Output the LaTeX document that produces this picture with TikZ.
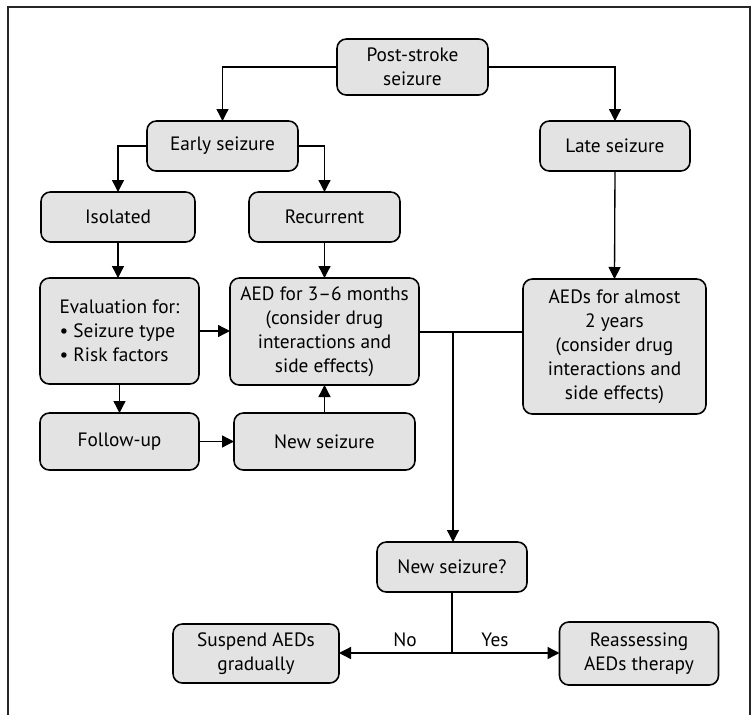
\documentclass[tikz,border=0pt]{standalone}
\usepackage{fontspec}
\setmainfont{PT Sans}
\usetikzlibrary{arrows.meta}
\begin{document}
\begin{tikzpicture}[x=0.75pt,y=-0.75pt,
  box/.style={draw=black,line width=1.2pt,fill=gray!22,rounded corners=7pt,
    inner sep=0pt,outer sep=0pt,align=center,font=\fontsize{14.5}{18}\selectfont},
  arr/.style={line width=1pt,-{Triangle[length=9pt,width=9pt]}},
  ln/.style={line width=1pt},
  lbl/.style={font=\fontsize{14.5}{18}\selectfont,inner sep=0pt}]
\useasboundingbox (0,0) rectangle (751,715);
% frame
\draw[line width=1.4pt,gray!30!black] (8,715) -- (8,7) -- (750,7) -- (750,715);
% nodes
\node[box,minimum width=113.25pt,minimum height=42pt] (post) at (412.5,67) {Post-stroke\\seizure};
\node[box,minimum width=113.25pt,minimum height=37.5pt] (early) at (222.5,146) {Early seizure};
\node[box,minimum width=112.5pt,minimum height=37.5pt] (late) at (615,146) {Late seizure};
\node[box,minimum width=115.5pt,minimum height=37.5pt] (iso) at (118,217) {Isolated};
\node[box,minimum width=113.25pt,minimum height=37.5pt] (rec) at (324.5,217) {Recurrent};
\node[box,minimum width=119.25pt,minimum height=79.5pt,align=left] (eval) at (119.5,331) {Evaluation for:\\• Seizure type\\• Risk factors};
\node[box,minimum width=141.75pt,minimum height=80.25pt] (aed) at (324.5,331.5) {AED for 3–6 months\\(consider drug\\interactions and\\side effects)};
\node[box,minimum width=137.25pt,minimum height=101.25pt] (aed2) at (614.5,346.5) {AEDs for almost\\2 years\\(consider drug\\interactions and\\side effects)};
\node[box,minimum width=119.25pt,minimum height=42.75pt] (follow) at (119.5,441.5) {Follow-up};
\node[box,minimum width=135.75pt,minimum height=42.75pt] (newsz) at (324.5,441.5) {New seizure};
\node[box,minimum width=112.5pt,minimum height=37.5pt] (q) at (452,567) {New seizure?};
\node[box,minimum width=124.5pt,minimum height=44.25pt] (susp) at (256,653.5) {Suspend AEDs\\gradually};
\node[box,minimum width=119.25pt,minimum height=47.25pt] (reas) at (639,653.5) {Reassessing\\AEDs therapy};
% connectors
\draw[arr] (post.west) -| (early.north);
\draw[arr] (post.east) -| (late.north);
\draw[arr] (early.west) -| (iso.north);
\draw[arr] (early.east) -| (rec.north);
\draw[arr] (iso.south) -- (iso.south |- eval.north);
\draw[arr] (rec.south) -- (aed.north);
\draw[arr] (late.south) -- (aed2.north);
\draw[arr] (eval.east) -- (eval.east -| aed.west);
\draw[arr] (eval.south) -- (follow.north);
\draw[arr] (follow.east) -- (newsz.west);
\draw[arr] (newsz.north) -- (aed.south);
\coordinate (j) at (453,332);
\draw[ln] (aed.east |- j) -- (j -| aed2.west);
\draw[arr] (j) -- (j |- q.north);
\coordinate (b) at (452,653);
\draw[ln] (q.south) -- (b);
\draw[arr] (b) -- (b -| susp.east);
\draw[arr] (b) -- (b -| reas.west);
\node[lbl] (no) at (405,640) {No};
\node[lbl] (yes) at (495,640) {Yes};
\end{tikzpicture}
\end{document}
